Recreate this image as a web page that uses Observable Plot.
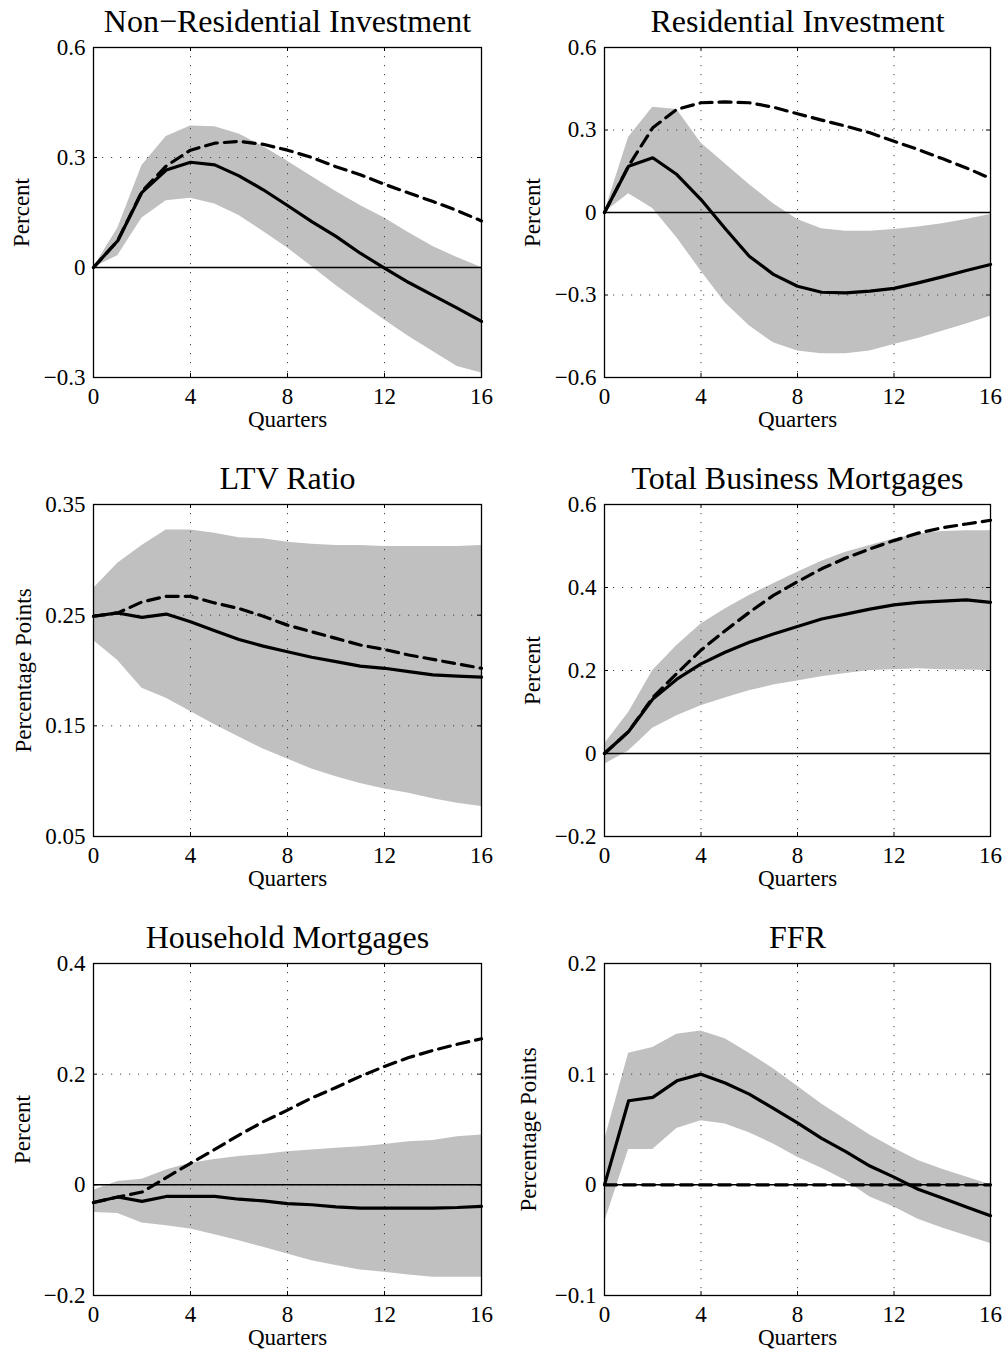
<!DOCTYPE html>
<html>
<head>
<meta charset="utf-8">
<script src="https://cdn.jsdelivr.net/npm/d3@7"></script>
<script src="https://cdn.jsdelivr.net/npm/@observablehq/plot@0.6"></script>
<style>
  body { margin: 0; background: #fff; }
  #fig { position: relative; width: 1008px; height: 1352px; background: #fff; overflow: hidden; }
  #fig > .panel { position: absolute; }
</style>
</head>
<body>
<div id="fig"></div>
<script>
// Horizon (quarters after the shock)
const quarters = [0, 1, 2, 3, 4, 5, 6, 7, 8, 9, 10, 11, 12, 13, 14, 15, 16];
const quarterTicks = [0, 4, 8, 12, 16];

// Non-residential investment (percent)
const nonresMedian = [0, 0.073, 0.205, 0.266, 0.287, 0.280, 0.250, 0.212, 0.169, 0.125, 0.085, 0.039, -0.002, -0.041, -0.076, -0.111, -0.147];
const nonresAlt    = [0, 0.073, 0.208, 0.277, 0.320, 0.339, 0.344, 0.336, 0.320, 0.300, 0.275, 0.253, 0.227, 0.203, 0.180, 0.155, 0.127];
const nonresHi     = [0, 0.107, 0.278, 0.357, 0.386, 0.384, 0.364, 0.330, 0.290, 0.248, 0.207, 0.169, 0.135, 0.095, 0.057, 0.027, 0.000];
const nonresLo     = [0, 0.032, 0.135, 0.182, 0.189, 0.173, 0.142, 0.098, 0.053, 0.003, -0.049, -0.097, -0.143, -0.188, -0.229, -0.270, -0.288];

// Residential investment (percent)
const residMedian = [0, 0.168, 0.199, 0.138, 0.047, -0.058, -0.159, -0.225, -0.268, -0.290, -0.292, -0.286, -0.276, -0.256, -0.234, -0.211, -0.189];
const residAlt    = [0, 0.170, 0.308, 0.375, 0.399, 0.402, 0.399, 0.383, 0.359, 0.336, 0.314, 0.290, 0.259, 0.229, 0.196, 0.162, 0.124];
const residHi     = [0, 0.274, 0.383, 0.375, 0.253, 0.177, 0.102, 0.032, -0.025, -0.059, -0.068, -0.068, -0.062, -0.053, -0.041, -0.025, -0.007];
const residLo     = [0, 0.068, 0.015, -0.092, -0.213, -0.328, -0.412, -0.474, -0.504, -0.514, -0.514, -0.504, -0.480, -0.458, -0.432, -0.405, -0.377];

// Loan-to-value ratio (percentage points)
const ltvMedian = [0.249, 0.252, 0.248, 0.251, 0.244, 0.236, 0.228, 0.222, 0.217, 0.212, 0.208, 0.204, 0.202, 0.199, 0.196, 0.195, 0.194];
const ltvAlt    = [0.249, 0.252, 0.262, 0.267, 0.267, 0.261, 0.256, 0.249, 0.241, 0.235, 0.229, 0.223, 0.219, 0.214, 0.210, 0.206, 0.202];
const ltvHi     = [0.274, 0.297, 0.313, 0.327, 0.327, 0.324, 0.320, 0.319, 0.316, 0.314, 0.313, 0.313, 0.312, 0.312, 0.312, 0.312, 0.313];
const ltvLo     = [0.227, 0.209, 0.184, 0.175, 0.163, 0.151, 0.140, 0.129, 0.120, 0.111, 0.104, 0.098, 0.093, 0.089, 0.084, 0.080, 0.077];

// Total business mortgages (percent)
const bizMedian = [0, 0.053, 0.131, 0.179, 0.216, 0.244, 0.268, 0.288, 0.306, 0.324, 0.336, 0.348, 0.358, 0.364, 0.367, 0.370, 0.364];
const bizAlt    = [0, 0.053, 0.135, 0.193, 0.249, 0.296, 0.340, 0.381, 0.414, 0.445, 0.471, 0.493, 0.513, 0.531, 0.544, 0.553, 0.562];
const bizHi     = [0.023, 0.099, 0.200, 0.260, 0.312, 0.348, 0.381, 0.409, 0.437, 0.463, 0.485, 0.501, 0.517, 0.529, 0.535, 0.537, 0.537];
const bizLo     = [-0.026, 0.006, 0.061, 0.091, 0.115, 0.134, 0.151, 0.165, 0.175, 0.185, 0.193, 0.200, 0.202, 0.204, 0.202, 0.201, 0.200];

// Household mortgages (percent)
const hhMedian = [-0.032, -0.022, -0.030, -0.021, -0.021, -0.021, -0.026, -0.029, -0.034, -0.036, -0.040, -0.042, -0.042, -0.042, -0.042, -0.041, -0.039];
const hhAlt    = [-0.032, -0.022, -0.013, 0.013, 0.039, 0.064, 0.090, 0.114, 0.135, 0.157, 0.176, 0.196, 0.214, 0.230, 0.243, 0.254, 0.264];
const hhHi     = [-0.010, 0.006, 0.010, 0.027, 0.039, 0.046, 0.051, 0.055, 0.060, 0.063, 0.066, 0.069, 0.073, 0.078, 0.080, 0.087, 0.090];
const hhLo     = [-0.050, -0.052, -0.069, -0.074, -0.080, -0.090, -0.101, -0.113, -0.125, -0.137, -0.146, -0.154, -0.158, -0.163, -0.167, -0.167, -0.167];

// Federal funds rate (percentage points)
const ffrMedian = [0, 0.076, 0.079, 0.094, 0.100, 0.092, 0.082, 0.069, 0.056, 0.042, 0.030, 0.017, 0.007, -0.004, -0.012, -0.020, -0.028];
const ffrAlt    = [0, 0, 0, 0, 0, 0, 0, 0, 0, 0, 0, 0, 0, 0, 0, 0, 0];
const ffrHi     = [0.040, 0.119, 0.124, 0.136, 0.139, 0.132, 0.119, 0.105, 0.089, 0.073, 0.059, 0.045, 0.033, 0.022, 0.014, 0.007, 0.000];
const ffrLo     = [-0.034, 0.032, 0.032, 0.051, 0.058, 0.055, 0.047, 0.037, 0.025, 0.015, 0.004, -0.011, -0.020, -0.031, -0.039, -0.046, -0.053];

// Panel titles, axis labels and y ticks
const titles  = ["Non\u2212Residential Investment", "Residential Investment", "LTV Ratio", "Total Business Mortgages", "Household Mortgages", "FFR"];
const yLabels = ["Percent", "Percent", "Percentage Points", "Percent", "Percent", "Percentage Points"];
const yTicks  = [
  [-0.3, 0, 0.3, 0.6],
  [-0.6, -0.3, 0, 0.3, 0.6],
  [0.05, 0.15, 0.25, 0.35],
  [-0.2, 0, 0.2, 0.4, 0.6],
  [-0.2, 0, 0.2, 0.4],
  [-0.1, 0, 0.1, 0.2]
];

const series = [
  [nonresMedian, nonresAlt, nonresLo, nonresHi],
  [residMedian, residAlt, residLo, residHi],
  [ltvMedian, ltvAlt, ltvLo, ltvHi],
  [bizMedian, bizAlt, bizLo, bizHi],
  [hhMedian, hhAlt, hhLo, hhHi],
  [ffrMedian, ffrAlt, ffrLo, ffrHi]
];

// Layout of the 2 x 3 grid
const panelW = 504;
const rowTop = [2, 459, 918];       // svg top per row
const plotH = [330, 332, 332];      // inner plot height per row
const mTop = 45, mBottom = 56;
const colLeft = [0, 504];
const mLeft = [93, 100], mRight = [23, 18];
const yLabelDx = [[-72, -72], [-70, -72], [-71, -76]];

const serif = "'Liberation Serif', 'Times New Roman', Times, serif";
const fmt = d => (d < 0 ? "\u2212" : "") + String(Math.abs(d));

const fig = document.getElementById("fig");

titles.forEach((title, k) => {
  const row = Math.floor(k / 2), col = k % 2;
  const [med, alt, lo, hi] = series[k];
  const data = quarters.map((q, i) => ({q, med: med[i], alt: alt[i], lo: lo[i], hi: hi[i]}));
  const ticks = yTicks[k];
  const domain = [ticks[0], ticks[ticks.length - 1]];
  const innerX = quarterTicks.slice(1, -1);
  const innerY = ticks.slice(1, -1);
  const h = plotH[row];
  const w = panelW - mLeft[col] - mRight[col];
  const hasZero = domain[0] < 0 && domain[1] > 0;

  const chart = Plot.plot({
    width: panelW,
    height: mTop + h + mBottom,
    marginTop: mTop,
    marginBottom: mBottom,
    marginLeft: mLeft[col],
    marginRight: mRight[col],
    style: {fontFamily: serif, fontSize: "23px", background: "transparent", color: "black", overflow: "visible"},
    x: {domain: [0, 16]},
    y: {domain},
    marks: [
      // confidence band
      Plot.areaY(data, {x: "q", y1: "lo", y2: "hi", fill: "#c0c0c0", curve: "linear"}),
      // dotted grid
      Plot.ruleX(innerX, {stroke: "#444", strokeWidth: 1, strokeDasharray: "1.2,7.8"}),
      Plot.ruleY(innerY, {stroke: "#444", strokeWidth: 1, strokeDasharray: "1.2,7.8"}),
      hasZero ? Plot.ruleY([0], {stroke: "black", strokeWidth: 1.5}) : null,
      // alternative response (dashed) and median response (solid)
      Plot.line(data, {x: "q", y: "alt", stroke: "black", strokeWidth: 3.2, strokeDasharray: "12,7"}),
      Plot.line(data, {x: "q", y: "med", stroke: "black", strokeWidth: 3.2, strokeLinejoin: "round"}),
      // inward tick marks on all four sides
      Plot.ruleX(quarterTicks, {insetTop: h - 4, stroke: "black"}),
      Plot.ruleX(quarterTicks, {insetBottom: h - 4, stroke: "black"}),
      Plot.ruleY(ticks, {insetRight: w - 4, stroke: "black"}),
      Plot.ruleY(ticks, {insetLeft: w - 4, stroke: "black"}),
      Plot.frame({stroke: "black", strokeWidth: 1.3}),
      Plot.axisX(quarterTicks, {tickSize: 0, tickPadding: 10, label: null, fontSize: 23}),
      Plot.axisY(ticks, {tickSize: 0, tickPadding: 8, label: null, fontSize: 23, tickFormat: fmt}),
      Plot.text(["Quarters"], {frameAnchor: "bottom", dy: 49, lineAnchor: "bottom", fontSize: 23}),
      Plot.text([yLabels[k]], {frameAnchor: "left", textAnchor: "middle", rotate: -90, dx: yLabelDx[row][col], fontSize: 23}),
      Plot.text([title], {frameAnchor: "top", dy: -16, lineAnchor: "bottom", fontSize: 32})
    ]
  });

  const holder = document.createElement("div");
  holder.className = "panel";
  holder.style.left = colLeft[col] + "px";
  holder.style.top = rowTop[row] + "px";
  holder.appendChild(chart);
  fig.appendChild(holder);
});
</script>
</body>
</html>
